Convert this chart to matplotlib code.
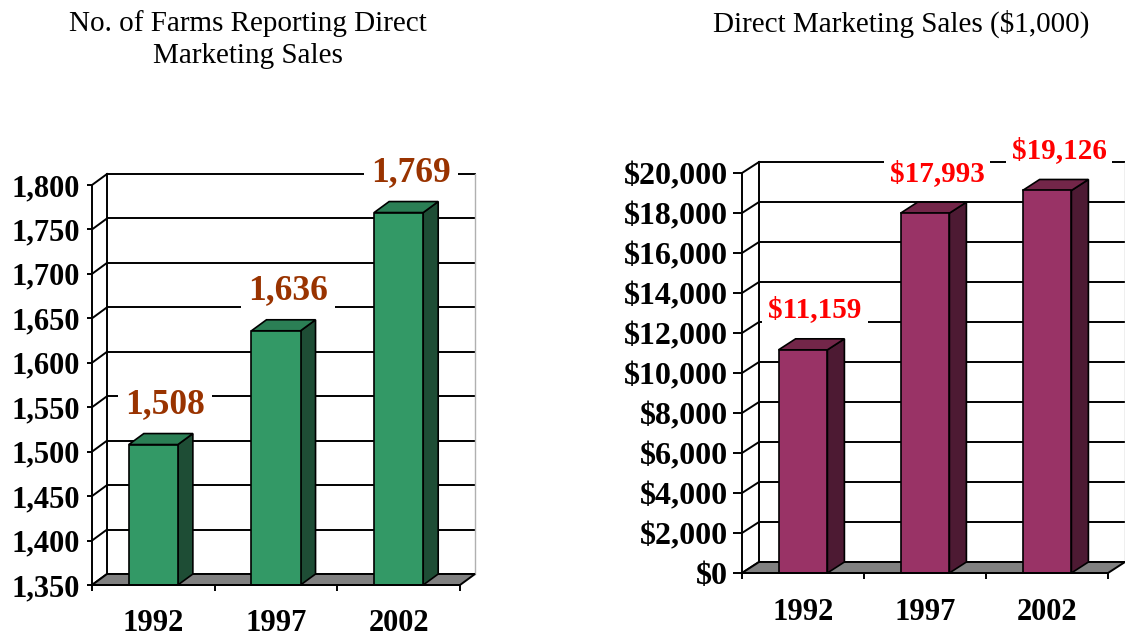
import numpy as np
import matplotlib.pyplot as plt
from matplotlib.patches import Polygon

# ---- Data ----
years = ['1992', '1997', '2002']
farms = [1508, 1636, 1769]
sales = [11159, 17993, 19126]
farm_labels = ['1,508', '1,636', '1,769']
sales_labels = ['$11,159', '$17,993', '$19,126']
farm_ticks = [1350, 1400, 1450, 1500, 1550, 1600, 1650, 1700, 1750, 1800]
sales_ticks = [0, 2000, 4000, 6000, 8000, 10000, 12000, 14000, 16000, 18000, 20000]

SERIF = 'Liberation Serif'
W, H = 1125, 636
fig = plt.figure(figsize=(W / 100, H / 100), dpi=100)


def px_axes(left, top, right, bottom):
    """Axes from pixel box (front plane of the 3-D chart)."""
    return fig.add_axes([left / W, 1 - bottom / H, (right - left) / W, (bottom - top) / H])


def draw_3d_bars(ax, values, ticks, labels, tick_fmt, colors, label_color,
                 label_size, tick_size, depth_px, tick_len, year_pad):
    n = len(values)
    ymin, ymax = ticks[0], ticks[-1]
    ax.set_xlim(0, n)
    ax.set_ylim(ymin, ymax)
    bb = ax.get_position()
    ddx = depth_px[0] * n / (bb.width * W)
    ddy = depth_px[1] * (ymax - ymin) / (bb.height * H)
    lw = 1.4

    # back wall gridlines + side wall diagonals
    for t in ticks:
        ax.plot([ddx, n + ddx], [t + ddy, t + ddy], color='black', lw=lw,
                clip_on=False, zorder=1)
        ax.plot([0, ddx], [t, t + ddy], color='black', lw=lw, clip_on=False, zorder=1)
    ax.plot([ddx, ddx], [ymin + ddy, ymax + ddy], color='black', lw=lw,
            clip_on=False, zorder=1)
    ax.plot([n + ddx, n + ddx], [ymin + ddy, ymax + ddy], color='#b0b0b0', lw=1,
            clip_on=False, zorder=1)

    # floor
    ax.add_patch(Polygon([(0, ymin), (n, ymin), (n + ddx, ymin + ddy), (ddx, ymin + ddy)],
                         closed=True, facecolor='#808080', edgecolor='black', lw=lw,
                         clip_on=False, zorder=2))

    # bars
    face, top, side = colors
    w = 0.4
    for i, v in enumerate(values):
        x0, x1 = i + 0.5 - w / 2, i + 0.5 + w / 2
        ax.add_patch(Polygon([(x1, ymin), (x1 + ddx, ymin + ddy), (x1 + ddx, v + ddy), (x1, v)],
                             closed=True, facecolor=side, edgecolor='black', lw=1.2,
                             clip_on=False, zorder=3))
        ax.add_patch(Polygon([(x0, v), (x1, v), (x1 + ddx, v + ddy), (x0 + ddx, v + ddy)],
                             closed=True, facecolor=top, edgecolor='black', lw=1.2,
                             clip_on=False, zorder=3))
        ax.add_patch(Polygon([(x0, ymin), (x1, ymin), (x1, v), (x0, v)],
                             closed=True, facecolor=face, edgecolor='black', lw=1.2,
                             clip_on=False, zorder=4))
        ax.annotate(labels[i], xy=(i + 0.5, v), xytext=(12, 40),
                    textcoords='offset pixels', ha='center', va='center',
                    fontsize=label_size, fontweight='bold', family=SERIF,
                    color=label_color, zorder=6, annotation_clip=False,
                    bbox=dict(boxstyle='square,pad=0.2', facecolor='white',
                              edgecolor='none'))

    # axes styling
    for s in ['top', 'right']:
        ax.spines[s].set_visible(False)
    ax.spines['left'].set_linewidth(lw)
    ax.spines['bottom'].set_linewidth(lw)
    ax.spines['left'].set_zorder(5)
    ax.spines['bottom'].set_zorder(5)
    ax.patch.set_visible(False)

    ax.set_yticks(ticks)
    ax.set_yticklabels([tick_fmt(t) for t in ticks], fontsize=tick_size,
                       fontweight='bold', family=SERIF)
    ax.tick_params(axis='y', direction='out', length=tick_len[0], width=lw, pad=tick_len[1])

    ax.set_xticks(np.arange(n + 1))
    ax.set_xticklabels([])
    ax.set_xticks(np.arange(n) + 0.5, minor=True)
    ax.set_xticklabels(years, minor=True, fontsize=22, fontweight='bold', family=SERIF)
    ax.tick_params(axis='x', which='major', direction='out', length=4, width=lw)
    ax.tick_params(axis='x', which='minor', length=0, pad=year_pad)


ax1 = px_axes(92, 185, 460, 585)
draw_3d_bars(ax1, farms, farm_ticks, farm_labels, lambda t: f'{t:,}',
             ('#339966', '#2B7F55', '#1E4D35'), '#993300', 25.5, 22,
             (15, 11), (3.6, 5), 17)

ax2 = px_axes(742, 173, 1108, 573)
draw_3d_bars(ax2, sales, sales_ticks, sales_labels, lambda t: f'${t:,}',
             ('#993366', '#732649', '#4D1A33'), '#FF0000', 21, 23,
             (17, 11), (6.5, 3.6), 18)

fig.text(248 / W, 1 - 10 / H, 'No. of Farms Reporting Direct\nMarketing Sales',
         ha='center', va='top', fontsize=21, family=SERIF, linespacing=1.3)
fig.text(901 / W, 1 - 10 / H, 'Direct Marketing Sales ($1,000)',
         ha='center', va='top', fontsize=21, family=SERIF)

fig.savefig('out.png', dpi=100)
